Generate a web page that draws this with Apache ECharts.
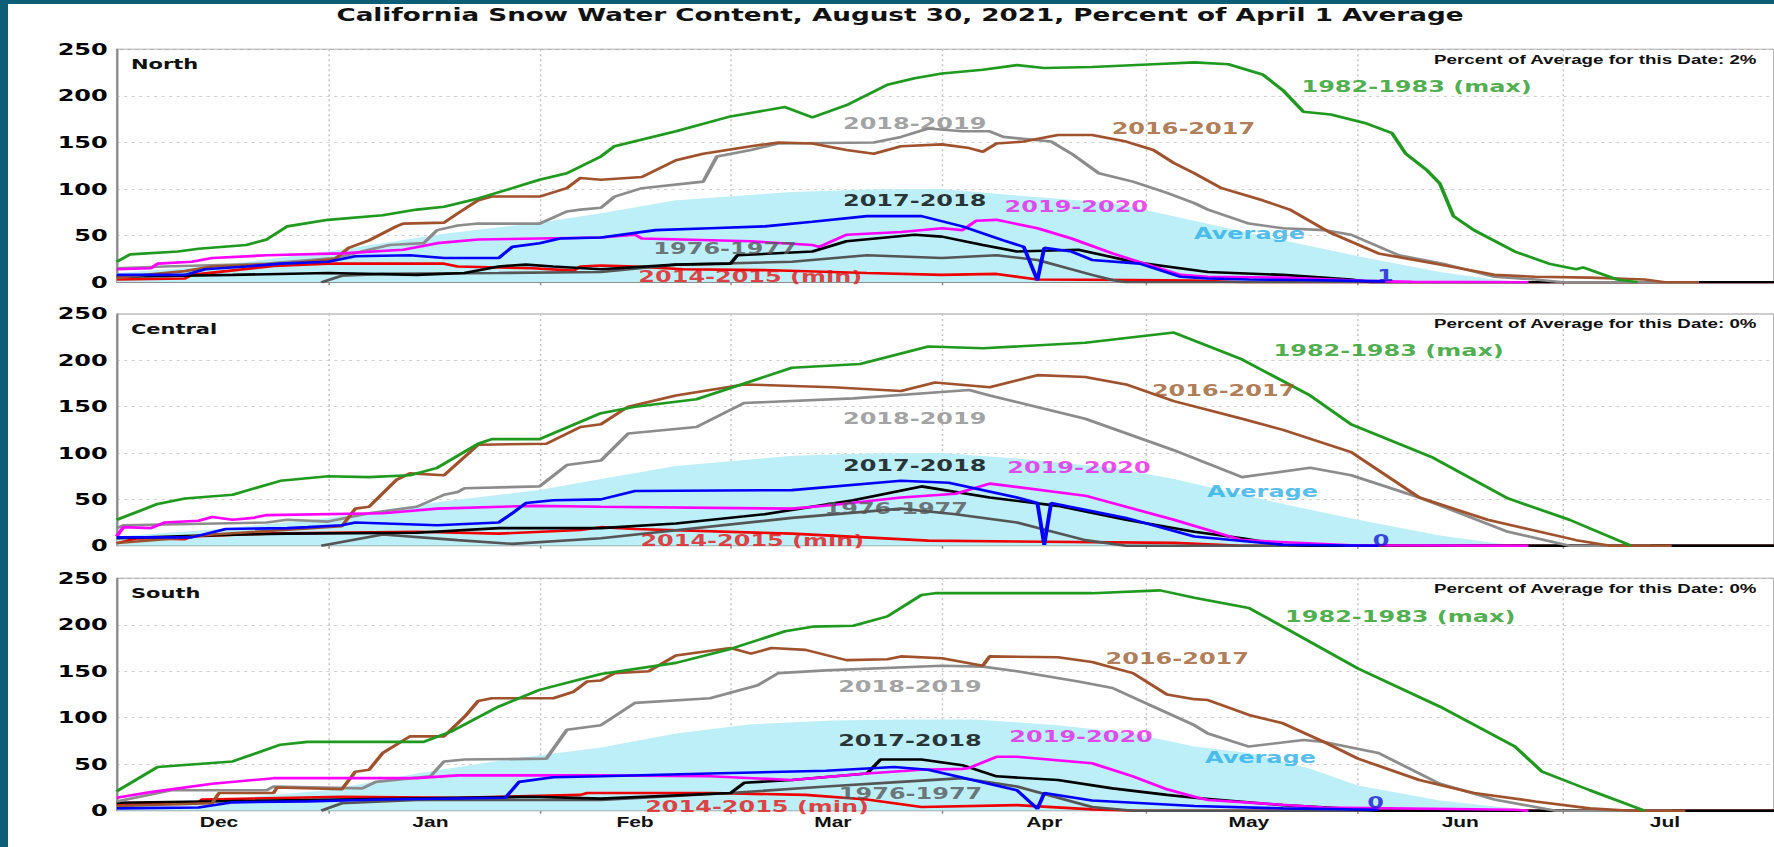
<!DOCTYPE html>
<html><head><meta charset="utf-8">
<script src="https://cdn.jsdelivr.net/npm/echarts@6/dist/echarts.min.js"></script>
<style>
html,body{margin:0;padding:0;width:1774px;height:847px;overflow:hidden;background:#fff;}
#chart{position:absolute;left:0;top:0;width:1183px;height:847px;transform:scaleX(1.49958);transform-origin:0 0;}
.frameL{position:absolute;left:0;top:0;width:8px;height:847px;background:#0d5f78;}
.frameT{position:absolute;left:0;top:0;width:1774px;height:4px;background:#0d5f78;}
</style></head><body>
<div id="chart"></div><div class="frameL"></div><div class="frameT"></div>
<script>
// ---------- text / categories ----------
const chartTitle = 'California Snow Water Content, August 30, 2021, Percent of April 1 Average';
const regions = ['North', 'Central', 'South'];
const pctOfAvgToday = ['2%', '0%', '0%'];
const currentValueLabel = ['1', '0', '0'];
const monthNames = ['Dec', 'Jan', 'Feb', 'Mar', 'Apr', 'May', 'Jun', 'Jul'];
const monthStartDays = [0, 31, 62, 90, 121, 151, 182, 212];   // days since Dec 1
const monthMidDays = [15, 46, 76, 105, 136, 166, 197, 227];
const yTickValues = [0, 50, 100, 150, 200, 250];
const seasonLabels = ['1982-1983 (max)', '2016-2017', '2018-2019', '2017-2018', '2019-2020', 'Average', '1976-1977', '2014-2015 (min)'];

// ---------- data: [day since Dec 1, percent of April 1 average] ----------
const northAvg = [[0,10],[15,18],[31,33],[48,52],[62,64],[71,74],[82,88],[99,97],[110,99.5],[121,100],[132,93],[146,85],[155,71],[171,45],[182,28],[194,11],[202,3],[206,0],[243,0]];
const northMax = [[0,22],[2,30],[9,33],[12,36],[19,40],[22,46],[25,60],[31,67],[39,72],[44,78],[48,81],[53,90],[58,101],[62,110],[66,117],[71,135],[73,146],[82,162],[90,178],[98,188],[102,177],[107,190],[113,212],[117,219],[121,224],[127,228],[132,233],[136,230],[143,231],[152,234],[158,236],[163,234],[168,223],[171,206],[174,183],[178,180],[183,171],[187,160],[189,138],[192,121],[194,106],[196,71],[199,56],[205,33],[210,20],[214,14],[215,16],[220,3],[223,0]];
const north1617 = [[0,5],[10,12],[14,17],[25,20],[32,25],[34,37],[37,45],[41,60],[42,63],[48,64],[50,74],[53,88],[55,92],[62,92],[66,101],[68,112],[71,110],[77,113],[82,131],[86,138],[93,146],[97,150],[102,149],[107,142],[111,138],[115,146],[121,148],[125,144],[127,140],[129,149],[133,151],[138,158],[143,158],[148,151],[152,142],[155,128],[158,117],[162,101],[168,88],[172,78],[178,53],[185,31],[194,19],[202,8],[208,6],[216,5],[224,3],[227,0],[232,0]];
const north1819 = [[0,15],[7,17],[22,20],[32,26],[37,35],[40,40],[45,42],[47,56],[50,61],[53,63],[62,63],[66,76],[68,78],[71,80],[73,92],[77,101],[86,108],[88,135],[93,142],[97,149],[111,150],[115,156],[119,165],[124,162],[128,162],[130,156],[137,151],[140,138],[144,117],[149,108],[154,96],[158,85],[160,78],[166,63],[171,58],[177,56],[181,51],[188,29],[195,19],[202,6],[208,3],[212,0],[228,0]];
const north1718 = [[0,6],[17,8],[31,10],[44,8],[51,10],[56,17],[60,19],[64,17],[71,14],[82,19],[90,20],[91,29],[102,33],[107,44],[117,51],[121,49],[127,40],[132,33],[141,35],[149,22],[154,17],[160,11],[171,8],[181,3],[184,0],[243,0]];
const north1920 = [[0,14],[5,15],[6,20],[11,22],[14,26],[22,29],[33,31],[42,35],[47,42],[53,46],[71,48],[76,51],[77,47],[93,44],[102,40],[103,38],[107,51],[115,54],[121,58],[124,56],[126,66],[129,67],[135,58],[140,47],[146,31],[152,17],[156,8],[160,6],[171,5],[180,2.5],[183,1.5],[190,0.5],[207,0]];
const north7677 = [[30,0],[33,7],[39,9],[56,10],[71,11],[82,19],[99,22],[110,29],[121,26],[129,29],[135,24],[143,8],[146,2.5],[148,0],[243,0]];
const north1415 = [[0,3],[10,4],[11,8],[23,17.5],[31,20],[48,20],[50,17],[61,15],[67,12.5],[68,17],[71,18],[76,17],[83,14],[96,13],[110,10],[121,8],[129,9],[135,3],[149,2.5],[158,1.8],[165,0],[243,0]];
const north2021 = [[0,8],[10,8],[13,14],[19,17],[24,20],[31,22],[35,28],[43,29],[48,26],[56,26],[58,38],[62,42],[65,47],[71,48],[79,56],[87,58],[95,60],[102,65],[110,71],[118,71],[124,60],[130,45],[133,38],[135,2],[136,37],[140,33],[143,24],[150,20],[156,6],[160,4],[166,3],[174,2.5],[182,1.5],[186,1]];

const centralAvg = [[0,10],[15,18],[31,30],[48,48],[62,60],[71,72],[82,86],[99,97],[110,99.5],[121,100],[132,94],[146,84],[155,72],[171,45],[182,28],[194,11],[202,3],[206,0],[243,0]];
const centralMax = [[0,28],[6,45],[10,51],[17,55],[24,70],[31,75],[37,74],[43,76],[47,84],[53,110],[55,115],[62,115],[71,143],[76,150],[85,158],[99,192],[109,196],[119,215],[127,213],[142,219],[155,230],[165,201],[175,162],[181,131],[193,95],[204,51],[213,28],[222,0]];
const central1617 = [[0,3],[9,8],[14,12],[33,21],[35,40],[37,42],[41,71],[43,78],[48,76],[53,109],[63,110],[68,128],[71,131],[75,150],[82,162],[92,174],[105,171],[115,167],[120,176],[128,171],[135,184],[142,182],[148,174],[155,156],[165,137],[171,125],[181,101],[191,52],[201,28],[214,6],[219,0],[228,0]];
const central1819 = [[0,19],[1,22],[22,25],[25,28],[31,26],[37,35],[44,42],[48,55],[50,58],[51,62],[62,64],[66,87],[71,92],[75,121],[85,128],[92,154],[108,159],[125,168],[128,162],[142,137],[155,103],[165,74],[175,84],[181,76],[191,52],[204,15],[213,0],[225,0]];
const central1718 = [[0,8],[17,12],[25,13],[44,14],[56,19],[71,19],[82,24],[95,34],[108,49],[118,64],[128,52],[138,43],[148,28],[158,15],[165,8],[171,1],[175,0],[243,0]];
const central1920 = [[0,10],[1,20],[5,19],[7,25],[12,27],[14,31],[17,28],[20,30],[22,33],[39,35],[47,40],[61,43],[71,42],[99,40],[105,44],[115,52],[123,56],[128,67],[142,54],[155,28],[165,6],[181,0.5],[207,0]];
const central7677 = [[30,0],[39,12],[50,6],[58,2],[71,8],[99,30],[115,40],[123,34],[132,25],[142,6],[148,0],[243,0]];
const central1415 = [[0,2.5],[3,8],[10,7],[11,10],[22,13],[44,15],[56,13],[68,17],[71,20],[76,18],[99,13],[119,5.5],[155,3],[165,0],[243,0]];
const central2021 = [[0,9],[11,9],[16,18],[25,19],[28,20],[33,22],[35,25],[47,22],[56,25],[58,35],[60,46],[64,49],[71,50],[76,59],[99,60],[115,70],[122,68],[132,52],[135,46],[136,1],[137,46],[148,30],[158,10],[171,1],[185,0]];

const southAvg = [[0,8],[15,12],[31,22],[44,40],[58,56],[71,68],[82,83],[93,93],[105,97],[115,98],[126,98],[138,92],[149,83],[158,69],[166,62],[175,45],[182,27],[194,11],[205,2.5],[208,0],[243,0]];
const southMax = [[0,21],[6,47],[17,53],[24,71],[28,74],[45,74],[49,85],[56,112],[62,130],[71,147],[82,159],[90,174],[98,193],[102,198],[108,199],[113,209],[118,232],[120,234],[143,234],[153,237],[158,229],[166,218],[171,198],[182,153],[194,112],[205,69],[209,42],[216,22],[224,0]];
const south1617 = [[0,5],[14,8],[15,19],[23,19],[23.5,25],[33,23],[35,42],[37,44],[39,62],[43,80],[48,80],[51,101],[53,118],[55,121],[64,121],[67,128],[69,139],[71,140],[73,148],[78,150],[82,167],[90,175],[93,169],[96,175],[101,173],[107,162],[113,163],[115,166],[121,164],[127,156],[128,166],[138,165],[143,160],[149,148],[154,125],[158,120],[160,119],[166,103],[171,94],[177,74],[182,56],[191,33],[199,19],[208,10],[216,2.5],[222,0],[230,0]];
const south1819 = [[0,10],[8,22],[22,22],[23,26],[36,24],[38,31],[46,37],[48,53],[51,55],[63,56],[66,87],[71,92],[76,116],[87,121],[94,135],[97,148],[104,151],[121,156],[127,155],[132,150],[141,139],[146,132],[152,112],[158,92],[160,83],[166,69],[174,76],[177,74],[185,62],[194,29],[202,12],[208,4],[211,0],[228,0]];
const south1718 = [[0,8.6],[61,15],[71,13],[90,19],[92,30],[99,33],[110,40],[112,55],[118,55],[124,49],[129,37],[138,33],[146,24],[154,17],[158,14],[171,6],[182,1.4],[185,0],[243,0]];
const south1920 = [[0,14],[5,20],[14,29],[23,35],[44,35],[50,38],[71,38],[87,37],[99,33],[110,40],[118,44],[124,45],[125,46],[129,58],[132,58],[143,51],[149,37],[154,23],[158,15],[160,11.5],[177,3.5],[205,1],[207,0]];
const south7677 = [[30,0],[33,8],[44,11.5],[71,11.5],[90,19],[104,26],[115,31],[124,35],[132,26],[143,4],[149,0],[243,0]];
const south1415 = [[0,6],[12,8.6],[12.5,12],[33,15],[50,14],[68,17],[69,19],[71,19],[87,19],[101,17],[110,12],[118,4],[132,6],[143,1.4],[150,0],[243,0]];
const south2021 = [[0,2.5],[12,3.5],[17,9],[28,10],[39,12],[57,14],[59,31],[64,36],[71,37],[87,40],[104,43],[114,47],[119,44],[132,22],[135,2],[136,19],[143,11],[158,5],[171,2.5],[185,1]];

// ---------- assembly ----------
const panels = [
  {avg: northAvg, y1415: north1415, y7677: north7677, y1718: north1718, y1819: north1819, y1617: north1617, max: northMax, y1920: north1920, y2021: north2021},
  {avg: centralAvg, y1415: central1415, y7677: central7677, y1718: central1718, y1819: central1819, y1617: central1617, max: centralMax, y1920: central1920, y2021: central2021},
  {avg: southAvg, y1415: south1415, y7677: south7677, y1718: south1718, y1819: south1819, y1617: south1617, max: southMax, y1920: south1920, y2021: south2021}
];

// styles (draw order)
const lineStyles = [
  {key: 'y1415', color: '#ee0000'},
  {key: 'y7677', color: '#555555'},
  {key: 'y1718', color: '#000000'},
  {key: 'y1819', color: '#8c8c8c'},
  {key: 'y1617', color: '#a0522d'},
  {key: 'max',   color: '#1f9a1f'},
  {key: 'y1920', color: '#ff00ff'},
  {key: 'y2021', color: '#0000ff'}
];
const labelColors = ['#1f9a1f', '#9b5a2b', '#8a8a8a', '#000000', '#e81ee8', '#2aaee8', '#555555', '#e41414'];
const currentColor = '#1414d2';

// label anchor points in data units (day, percent), per panel, same order as seasonLabels + current value
const labelAnchors = [
  [[190.6,210],[156.4,165],[117,170.6],[117,87.6],[140.7,81],[166.1,52.6],[89.2,36.5],[92.9,6],[186,7.8]],
  [[186.5,210.5],[162.3,167.8],[117,137],[117,87],[141.1,84.8],[168,58],[114.3,39.6],[93.2,5.5],[185.4,5.5]],
  [[188.2,209.4],[155.5,163.9],[116.3,133.4],[116.3,76],[141.4,80.3],[167.7,57.4],[116.4,18.7],[93.9,4.3],[184.6,8.6]]
];

// ---------- layout (chart units; the page is stretched horizontally) ----------
const K = 1774 / 1183;
const plotLeft = 116.7 / K;
const dayWidth = 6.847 / K;
const gridTops = [49.3, 314, 578.3];
const gridHeights = [233, 231.7, 232.4];

const grids = [], xAxes = [], yAxes = [], series = [], graphics = [];
const boldSans = 'DejaVu Sans';
const arialLike = 'Liberation Sans';

panels.forEach((p, i) => {
  grids.push({left: plotLeft, top: gridTops[i], width: dayWidth * 243, height: gridHeights[i],
    show: true, borderColor: '#9a9a9a', borderWidth: 1, backgroundColor: '#ffffff'});
  xAxes.push({
    type: 'value', gridIndex: i, min: 0, max: 243,
    axisLine: {show: true, onZero: false, lineStyle: {color: '#8a8a8a', width: 1}},
    axisTick: {show: true, customValues: monthStartDays.slice(1), length: 3, lineStyle: {color: '#8a8a8a'}},
    axisLabel: {show: i === 2, customValues: monthMidDays, margin: 5,
      formatter: v => monthNames[monthMidDays.indexOf(Math.round(v))] || '',
      fontFamily: arialLike, fontWeight: 'bold', fontSize: 14, color: '#111'},
    splitLine: {show: true, lineStyle: {color: '#c4c4c4', width: 1, type: [2, 3]}}
  });
  yAxes.push({
    type: 'value', gridIndex: i, min: yTickValues[0], max: yTickValues[yTickValues.length - 1], interval: 50,
    axisLine: {show: true, lineStyle: {color: '#8a8a8a'}},
    axisTick: {show: false},
    axisLabel: {margin: 6, fontFamily: boldSans, fontWeight: 'bold', fontSize: 16, color: '#000'},
    splitLine: {show: true, lineStyle: {color: '#cfcfcf', width: 1, type: [2, 3]}}
  });
  // average area
  series.push({type: 'line', name: 'Average', xAxisIndex: i, yAxisIndex: i, data: p.avg,
    showSymbol: false, silent: true, z: 1, lineStyle: {width: 0}, areaStyle: {color: '#bdeff8', opacity: 1}});
  lineStyles.forEach((ls, j) => {
    series.push({type: 'line', xAxisIndex: i, yAxisIndex: i, data: p[ls.key], showSymbol: false, silent: true,
      z: 2 + j, lineStyle: {color: ls.color, width: 2.6}, itemStyle: {color: ls.color}});
  });
  // text labels anchored in data coordinates
  const labelData = seasonLabels.map((t, k) => ({
    value: labelAnchors[i][k], name: t,
    label: {color: labelColors[k]}
  }));
  labelData.push({value: labelAnchors[i][8], name: currentValueLabel[i], label: {color: currentColor}});
  series.push({type: 'scatter', xAxisIndex: i, yAxisIndex: i, data: labelData, symbolSize: 0.1, silent: true, z: 20,
    itemStyle: {color: 'rgba(0,0,0,0)'},
    label: {show: true, position: 'inside', formatter: d => d.name, fontFamily: boldSans, fontWeight: 'bold', fontSize: 16}});
  // panel name and note
  graphics.push({type: 'text', x: plotLeft + 9.5, y: gridTops[i] + 14.5, z: 30,
    style: {text: regions[i], fill: '#111', fontFamily: boldSans, fontWeight: 'bold', fontSize: 14,
      align: 'left', verticalAlign: 'middle', textAlign: 'left', textVerticalAlign: 'middle'}});
  graphics.push({type: 'text', x: 1756.5 / K, y: gridTops[i] + 10, z: 30,
    style: {text: 'Percent of Average for this Date: ' + pctOfAvgToday[i], fill: '#111', fontFamily: arialLike, fontWeight: 'bold', fontSize: 12.5,
      align: 'right', verticalAlign: 'middle', textAlign: 'right', textVerticalAlign: 'middle'}});
});

graphics.push({type: 'text', x: 900 / K, y: 14.5, z: 30,
  style: {text: chartTitle, fill: '#111', fontFamily: boldSans, fontWeight: 'bold', fontSize: 17.5,
    align: 'center', verticalAlign: 'middle', textAlign: 'center', textVerticalAlign: 'middle'}});

const chart = echarts.init(document.getElementById('chart'), null, {renderer: 'svg', width: 1183, height: 847});
chart.setOption({
  animation: false,
  backgroundColor: '#ffffff',
  grid: grids, xAxis: xAxes, yAxis: yAxes, series: series, graphic: graphics
});
</script></body></html>
